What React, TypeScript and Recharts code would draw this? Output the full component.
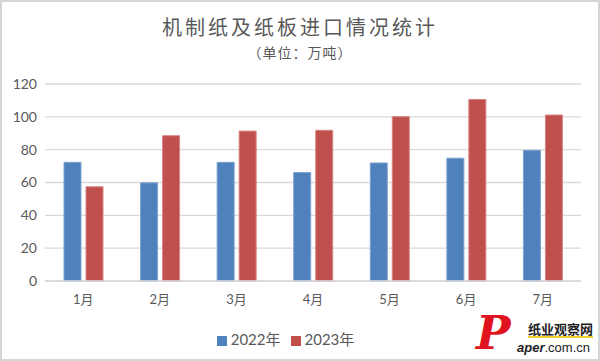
import { Bar, BarChart, CartesianGrid, Legend, XAxis, YAxis } from "recharts";

const months = ["1月", "2月", "3月", "4月", "5月", "6月", "7月"];
const imports2022 = [72.3, 59.8, 72.3, 66.1, 71.9, 74.8, 79.6];
const imports2023 = [57.4, 88.5, 91.3, 91.8, 100.1, 110.6, 101.1];
const yTicks = [0, 20, 40, 60, 80, 100, 120];

const data = months.map((month, i) => ({
  month,
  y2022: imports2022[i],
  y2023: imports2023[i]
}));

const font = "Lato, 'Noto Sans CJK SC', sans-serif";

export default function App() {
  return (
    <div
      style={{
        position: "absolute",
        left: 0,
        top: 0,
        width: 600,
        height: 361,
        background: "#fff",
        fontFamily: font
      }}
    >
      <div
        style={{
          position: "absolute",
          left: 0,
          top: 0,
          width: 596,
          height: 357,
          border: "2px solid #d6d6d6"
        }}
      />
      <div
        style={{
          position: "absolute",
          top: 15,
          width: 600,
          textAlign: "center",
          fontSize: 20,
          lineHeight: "24px",
          color: "#595959",
          fontFamily: "'Noto Sans CJK SC', sans-serif",
          letterSpacing: 3
        }}
      >
        机制纸及纸板进口情况统计
      </div>
      <div
        style={{
          position: "absolute",
          top: 44,
          width: 600,
          textAlign: "center",
          fontSize: 14,
          lineHeight: "16px",
          color: "#595959",
          fontFamily: "'Noto Sans CJK SC', sans-serif",
          letterSpacing: 1
        }}
      >
        （单位：万吨）
      </div>
      <BarChart
        width={600}
        height={361}
        data={data}
        margin={{ top: 84, right: 19, bottom: 29, left: 0 }}
        barGap={5}
        barSize={17}
      >
        <CartesianGrid vertical={false} stroke="#d9d9d9" strokeWidth={1.3} />
        <XAxis
          dataKey="month"
          axisLine={{ stroke: "#d9d9d9", strokeWidth: 1.3 }}
          tickLine={false}
          tick={{ fontSize: 13, fill: "#595959", fontFamily: font }}
          tickMargin={8}
        />
        <YAxis
          width={45}
          domain={[0, 120]}
          ticks={yTicks}
          axisLine={false}
          tickLine={false}
          tick={{ fontSize: 14, fill: "#595959", fontFamily: font }}
        />
        <Legend
          verticalAlign="bottom"
          align="center"
          iconType="square"
          iconSize={10}
          wrapperStyle={{ fontSize: 15, bottom: 12 }}
          formatter={(value) => <span style={{ color: "#595959" }}>{value}</span>}
        />
        <Bar dataKey="y2022" name="2022年" fill="#4f81bd" stroke="#7fa3d0" strokeWidth={1} isAnimationActive={false} />
        <Bar dataKey="y2023" name="2023年" fill="#c0504d" stroke="#d88482" strokeWidth={1} isAnimationActive={false} />
      </BarChart>
      <div
        style={{
          position: "absolute",
          left: 476,
          top: 310,
          fontSize: 46,
          fontWeight: 900,
          fontStyle: "italic",
          color: "#e0141e",
          fontFamily: "'DejaVu Serif', serif",
          lineHeight: 1
        }}
      >
        P
      </div>
      <div
        style={{
          position: "absolute",
          left: 528,
          top: 321,
          fontSize: 13,
          fontWeight: 700,
          color: "#222",
          fontFamily: "'Noto Sans CJK SC', sans-serif",
          borderBottom: "2px solid #f2d230",
          lineHeight: "15px"
        }}
      >
        纸业观察网
      </div>
      <div
        style={{
          position: "absolute",
          left: 517,
          top: 340,
          fontSize: 13,
          color: "#222",
          fontFamily: "'Liberation Sans', sans-serif",
          lineHeight: "15px"
        }}
      >
        <b>
          <i>aper</i>
        </b>
        .com.cn
      </div>
    </div>
  );
}
